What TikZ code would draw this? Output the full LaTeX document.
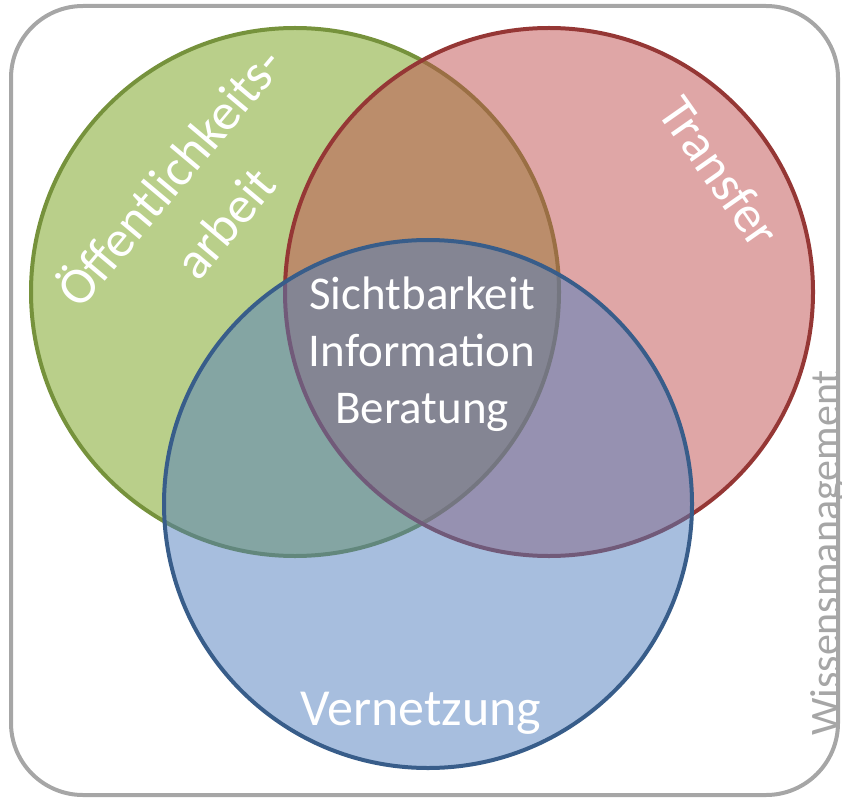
\documentclass[tikz,border=0pt]{standalone}
\usepackage{fontspec}
\setmainfont{Carlito}
\definecolor{gfill}{RGB}{115,159,21}
\definecolor{rfill}{RGB}{191,77,77}
\definecolor{bfill}{RGB}{79,125,189}
\definecolor{gline}{RGB}{118,146,60}
\definecolor{rline}{RGB}{149,55,53}
\definecolor{bline}{RGB}{56,93,138}
\definecolor{framegray}{RGB}{166,166,166}
\begin{document}
\begin{tikzpicture}[x=1pt,y=-1pt,
  venn/.style={circle, line width=4pt, fill opacity=0.5, draw opacity=1, minimum size=528pt, inner sep=0pt},
  lbl/.style={text=white, font=\fontsize{52}{72}\selectfont, align=center, inner sep=0pt},
  midlbl/.style={text=white, font=\fontsize{47}{57}\selectfont, align=center, inner sep=0pt}]
\useasboundingbox (0,0) rectangle (842,799);
\draw[framegray, line width=4pt, rounded corners=72pt] (11,6) rectangle (838,795);
\node[venn, draw=gline, fill=gfill] (green) at (295,292) {};
\node[venn, draw=rline, fill=rfill] (red) at (549,292) {};
\node[venn, draw=bline, fill=bfill] (blue) at (428,504) {};
\node[lbl, rotate=50] (oeff) at (195,198) {Öffentlichkeits-\\arbeit};
\node[lbl, rotate=-55] (transfer) at (720,172) {Transfer};
\node[lbl] (vernetzung) at (421,713) {Vernetzung};
\node[midlbl] (mitte) at (422,354) {Sichtbarkeit\\Information\\Beratung};
\node[text=framegray, font=\fontsize{42}{50}\selectfont, rotate=90, inner sep=0pt] (wissen) at (829,553) {Wissensmanagement};
\end{tikzpicture}
\end{document}
